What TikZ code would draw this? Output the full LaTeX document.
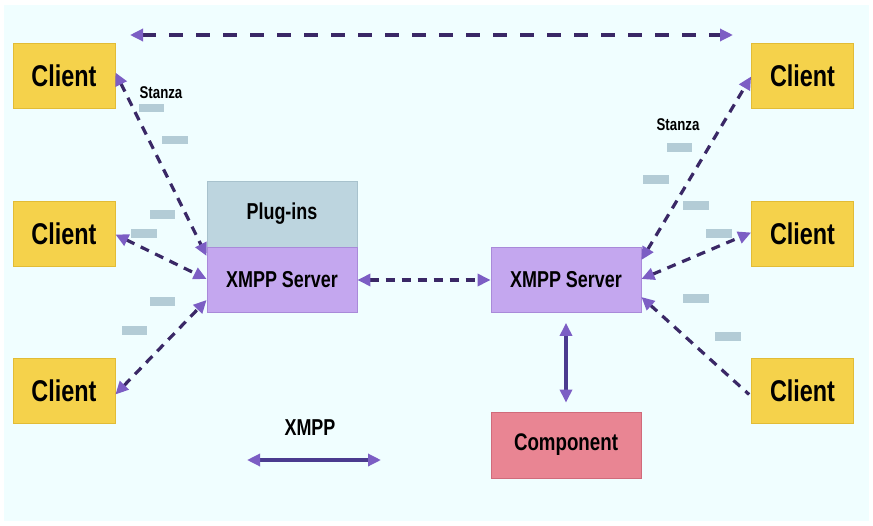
\documentclass[tikz,border=0pt]{standalone}
\usepackage{fontspec}
\usetikzlibrary{arrows.meta}
\newfontfamily\lblfont[FakeStretch=0.78]{Liberation Sans}
\definecolor{bgc}{HTML}{F0FEFF}
\definecolor{clientc}{HTML}{F5D24B}
\definecolor{clientb}{HTML}{E2BC36}
\definecolor{plugc}{HTML}{BDD5DF}
\definecolor{plugb}{HTML}{A8C2CD}
\definecolor{srvc}{HTML}{C4A7EF}
\definecolor{srvb}{HTML}{A98AD9}
\definecolor{compc}{HTML}{E98593}
\definecolor{compb}{HTML}{D06B7B}
\definecolor{linec}{HTML}{3A2866}
\definecolor{solidc}{HTML}{4B3B8F}
\definecolor{tipc}{HTML}{7C5EC4}
\definecolor{stzc}{HTML}{B3CCD6}
\tikzset{
  ptip/.tip={Triangle[length=13pt,width=12pt,color=tipc]},
  box/.style={draw, line width=0.8pt, minimum height=65pt, inner sep=0pt, anchor=center},
  clientbox/.style={box, fill=clientc, draw=clientb, minimum width=102pt, font=\lblfont\bfseries\fontsize{30}{30}\selectfont},
  plugbox/.style={box, fill=plugc, draw=plugb, minimum width=150pt, minimum height=66pt, font=\lblfont\bfseries\fontsize{23}{23}\selectfont},
  srvbox/.style={box, fill=srvc, draw=srvb, minimum width=150pt, font=\lblfont\bfseries\fontsize{23}{23}\selectfont},
  compbox/.style={box, fill=compc, draw=compb, minimum width=150pt, minimum height=66pt, font=\lblfont\bfseries\fontsize{24}{24}\selectfont},
  dlink/.style={draw=linec, line width=3.2pt, dash pattern=on 9pt off 7pt},
  toplink/.style={draw=linec, line width=3.2pt, dash pattern=on 14pt off 13pt},
  slink/.style={draw=solidc, line width=3.2pt},
  stz/.style={fill=stzc, draw=none},
  lbl/.style={font=\lblfont\bfseries\fontsize{17}{17}\selectfont, inner sep=0pt},
  leg/.style={font=\lblfont\bfseries\fontsize{23}{23}\selectfont, inner sep=0pt}
}
\begin{document}
\begin{tikzpicture}[x=1pt,y=-1pt]
\useasboundingbox (0,0) rectangle (873,525);
\fill[white] (0,0) rectangle (873,525);
\fill[bgc] (4,5) rectangle (869,521);

% stanza bars
\foreach \a/\b/\c/\d in {139/104/164/112,162/136/188/144,150/210/175/219,131/229/157/238,150/297/175/306,122/326/147/335,
  667/143/692/152,643/175/669/184,683/201/709/210,706/229/732/238,683/294/709/303,715/332/741/341}
  \fill[stz] (\a,\b) rectangle (\c,\d);

% nodes
\node[clientbox] (cTL) at (64,75.5) {Client};
\node[clientbox] (cML) at (64,233.5) {Client};
\node[clientbox] (cBL) at (64,390.5) {Client};
\node[clientbox] (cTR) at (802.5,75.5) {Client};
\node[clientbox] (cMR) at (802.5,233.5) {Client};
\node[clientbox] (cBR) at (802.5,390.5) {Client};
\node[plugbox] (plug) at (282,214) {Plug-ins};
\node[srvbox] (srvL) at (282,280) {XMPP Server};
\node[srvbox] (srvR) at (566,280) {XMPP Server};
\node[compbox] (comp) at (566,445) {Component};

\node[lbl] (stzL) at (161,93) {Stanza};
\node[lbl] (stzR) at (678,125) {Stanza};
\node[leg] (xmpp) at (310,428) {XMPP};

% legend arrow
\coordinate (legA) at (247,460);
\coordinate (legB) at (381,460);
\draw[slink, {ptip}-{ptip}] (legA) -- (legB);

% top arrow
\coordinate (topA) at (130,35);
\coordinate (topB) at (733,35);
\draw[toplink, {ptip}-{ptip}] (topA) -- (topB);

% left server links
\draw[dlink, {ptip}-{ptip}] ([yshift=3pt]cTL.east) -- ([yshift=24pt]srvL.west);
\draw[dlink, {ptip}-{ptip}] ([yshift=-1pt]cML.east) -- ([yshift=1pt]srvL.west);
\draw[dlink, {ptip}-{ptip}] ([yshift=-4pt]cBL.east) -- ([yshift=-20pt]srvL.west);

% right server links
\draw[dlink, {ptip}-{ptip}] ([yshift=20pt]srvR.east) -- ([yshift=-1pt]cTR.west);
\draw[dlink, {ptip}-{ptip}] ([yshift=1pt]srvR.east) -- ([yshift=1pt]cMR.west);
\draw[dlink, {ptip}-] ([yshift=-17pt]srvR.east) -- ([xshift=-2pt,yshift=-4pt]cBR.west);

% server to server
\draw[dlink, {ptip}-{ptip}] (srvL.east) -- (srvR.west);

% server to component
\draw[slink, {ptip}-{ptip}] ([yshift=-10pt]srvR.south) -- ([yshift=9pt]comp.north);
\end{tikzpicture}
\end{document}
